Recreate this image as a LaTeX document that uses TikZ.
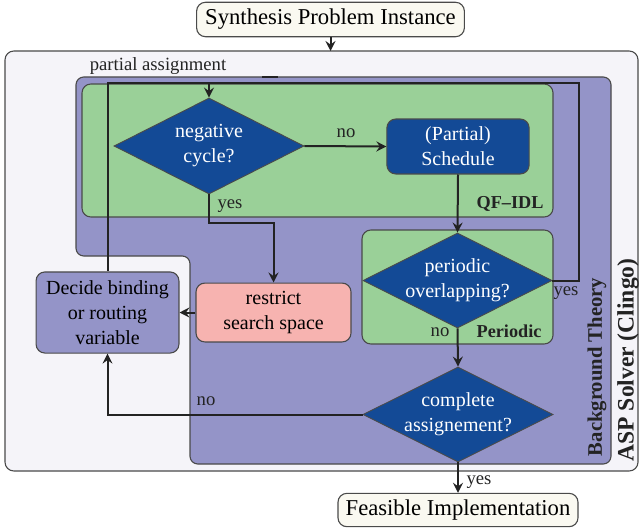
\documentclass[tikz,border=0pt]{standalone}
\usepackage{fontspec}
\setmainfont{Liberation Serif}
\usetikzlibrary{shapes.geometric,arrows.meta}
\definecolor{dblue}{HTML}{134A96}
\definecolor{lgreen}{HTML}{9AD098}
\definecolor{lpurple}{HTML}{9494C8}
\definecolor{lpink}{HTML}{F7B3B0}
\definecolor{cream}{HTML}{FAF9F1}
\definecolor{outerbg}{HTML}{F5F4F9}
\definecolor{ink}{HTML}{232323}
\definecolor{edgec}{HTML}{4A4A4A}
\newcommand\myfbig{\fontsize{10.2}{12}\selectfont}
\newcommand\myfmid{\fontsize{9}{11.25}\selectfont}
\newcommand\myflab{\fontsize{8.4}{10}\selectfont}
\begin{document}
\begin{tikzpicture}[x=0.45pt,y=-0.45pt,
  flow/.style={draw=ink,line width=0.9pt},
  arr/.style={flow,-{Stealth[length=4.5pt,width=4.5pt,inset=1.6pt]}},
  term/.style={draw=edgec,fill=cream,rounded corners=4pt,inner sep=0pt,font=\myfbig,line width=0.5pt},
  boxn/.style={draw=edgec,rounded corners=4pt,inner sep=0pt,align=center,font=\myfmid,line width=0.5pt},
  dia/.style={diamond,fill=dblue,draw=edgec,line width=0.4pt,inner sep=0pt},
  dtext/.style={text=white,align=center,font=\myfmid},
  lab/.style={font=\myflab,inner sep=0pt,text=ink},
  blab/.style={font=\fontsize{8.2}{10}\selectfont\bfseries,inner sep=0pt,text=ink},
  region/.style={draw=edgec,line width=0.5pt,rounded corners=4pt}
]
\useasboundingbox (0,0) rectangle (639,527);

% containers
\draw[region,fill=outerbg] (5,51) rectangle (638,471);
\draw[region,fill=lpurple,rounded corners=3.5pt] (76,77) -- (611,77) -- (611,464) -- (190,464) -- (190,256) -- (76,256) -- cycle;
\draw[region,fill=lgreen] (82,84) rectangle (553,217);
\draw[region,fill=lgreen] (362,230) rectangle (553,344);
\draw[ink,line width=1.2pt] (262,77) -- (278,77);

% region labels
\node[blab] (qf) at (510,204) {QF–IDL};
\node[blab] (perl) at (509,331) {Periodic};
\node[font=\fontsize{9.3}{11}\selectfont\bfseries,rotate=90,inner sep=0pt,text=ink] (bt) at (597,367) {Background Theory};
\node[font=\fontsize{10.6}{12}\selectfont\bfseries,rotate=90,inner sep=0pt,text=ink] (asp) at (628,360) {ASP Solver (Clingo)};

% nodes
\node[term,minimum width=120.5pt,minimum height=15.5pt] (spi) at (330.5,19.5) {Synthesis Problem Instance};
\node[term,minimum width=108pt,minimum height=15pt] (fea) at (458,510) {Feasible Implementation};
\node[dia,minimum width=85.5pt,minimum height=43.2pt,label={[dtext]center:{negative\\cycle?}}] (neg) at (209,146) {};
\node[boxn,fill=dblue,text=white,minimum width=64pt,minimum height=24.7pt] (sch) at (458,146.5) {(Partial)\\Schedule};
\node[dia,minimum width=85pt,minimum height=42.75pt,label={[dtext]center:{periodic\\overlapping?}}] (per) at (457.5,280.5) {};
\node[dia,minimum width=85.5pt,minimum height=42.75pt,label={[dtext]center:{complete\\assignement?}}] (cmp) at (458,414.5) {};
\node[boxn,fill=lpink,minimum width=69.75pt,minimum height=26.5pt] (res) at (273.5,312.5) {restrict\\search space};
\node[boxn,fill=lpurple,minimum width=64.3pt,minimum height=36.5pt] (dec) at (107.5,312.5) {Decide binding\\or routing\\variable};

% helper coordinates
\coordinate (tr) at (579,83);
\coordinate (na) at (209,83);
\coordinate (yb) at (209,223);

% connectors
\draw[arr] (spi.south) -- (330.5,51);
\draw[flow] (per.east) -| (tr) -| (dec.north);
\draw[arr] (na) -- (neg.north);
\draw[arr] (neg.east) -- (sch.west);
\draw[arr] (sch.south) -- (per.north);
\draw[arr] (neg.south) -- (yb) -| (res.north);
\draw[arr] (res.west) -- (dec.east);
\draw[arr] (per.south) -- (cmp.north);
\draw[arr] (cmp.west) -| (dec.south);
\draw[arr] (cmp.south) -- (fea.north);

% labels
\node[lab] (pa) at (158,66) {partial assignment};
\node[lab] (l1) at (346,133) {no};
\node[lab] (l2) at (230,206) {yes};
\node[lab] (l3) at (566,293) {yes};
\node[lab] (l4) at (440,332) {no};
\node[lab] (l5) at (206,401) {no};
\node[lab] (l6) at (479,482) {yes};
\end{tikzpicture}
\end{document}
